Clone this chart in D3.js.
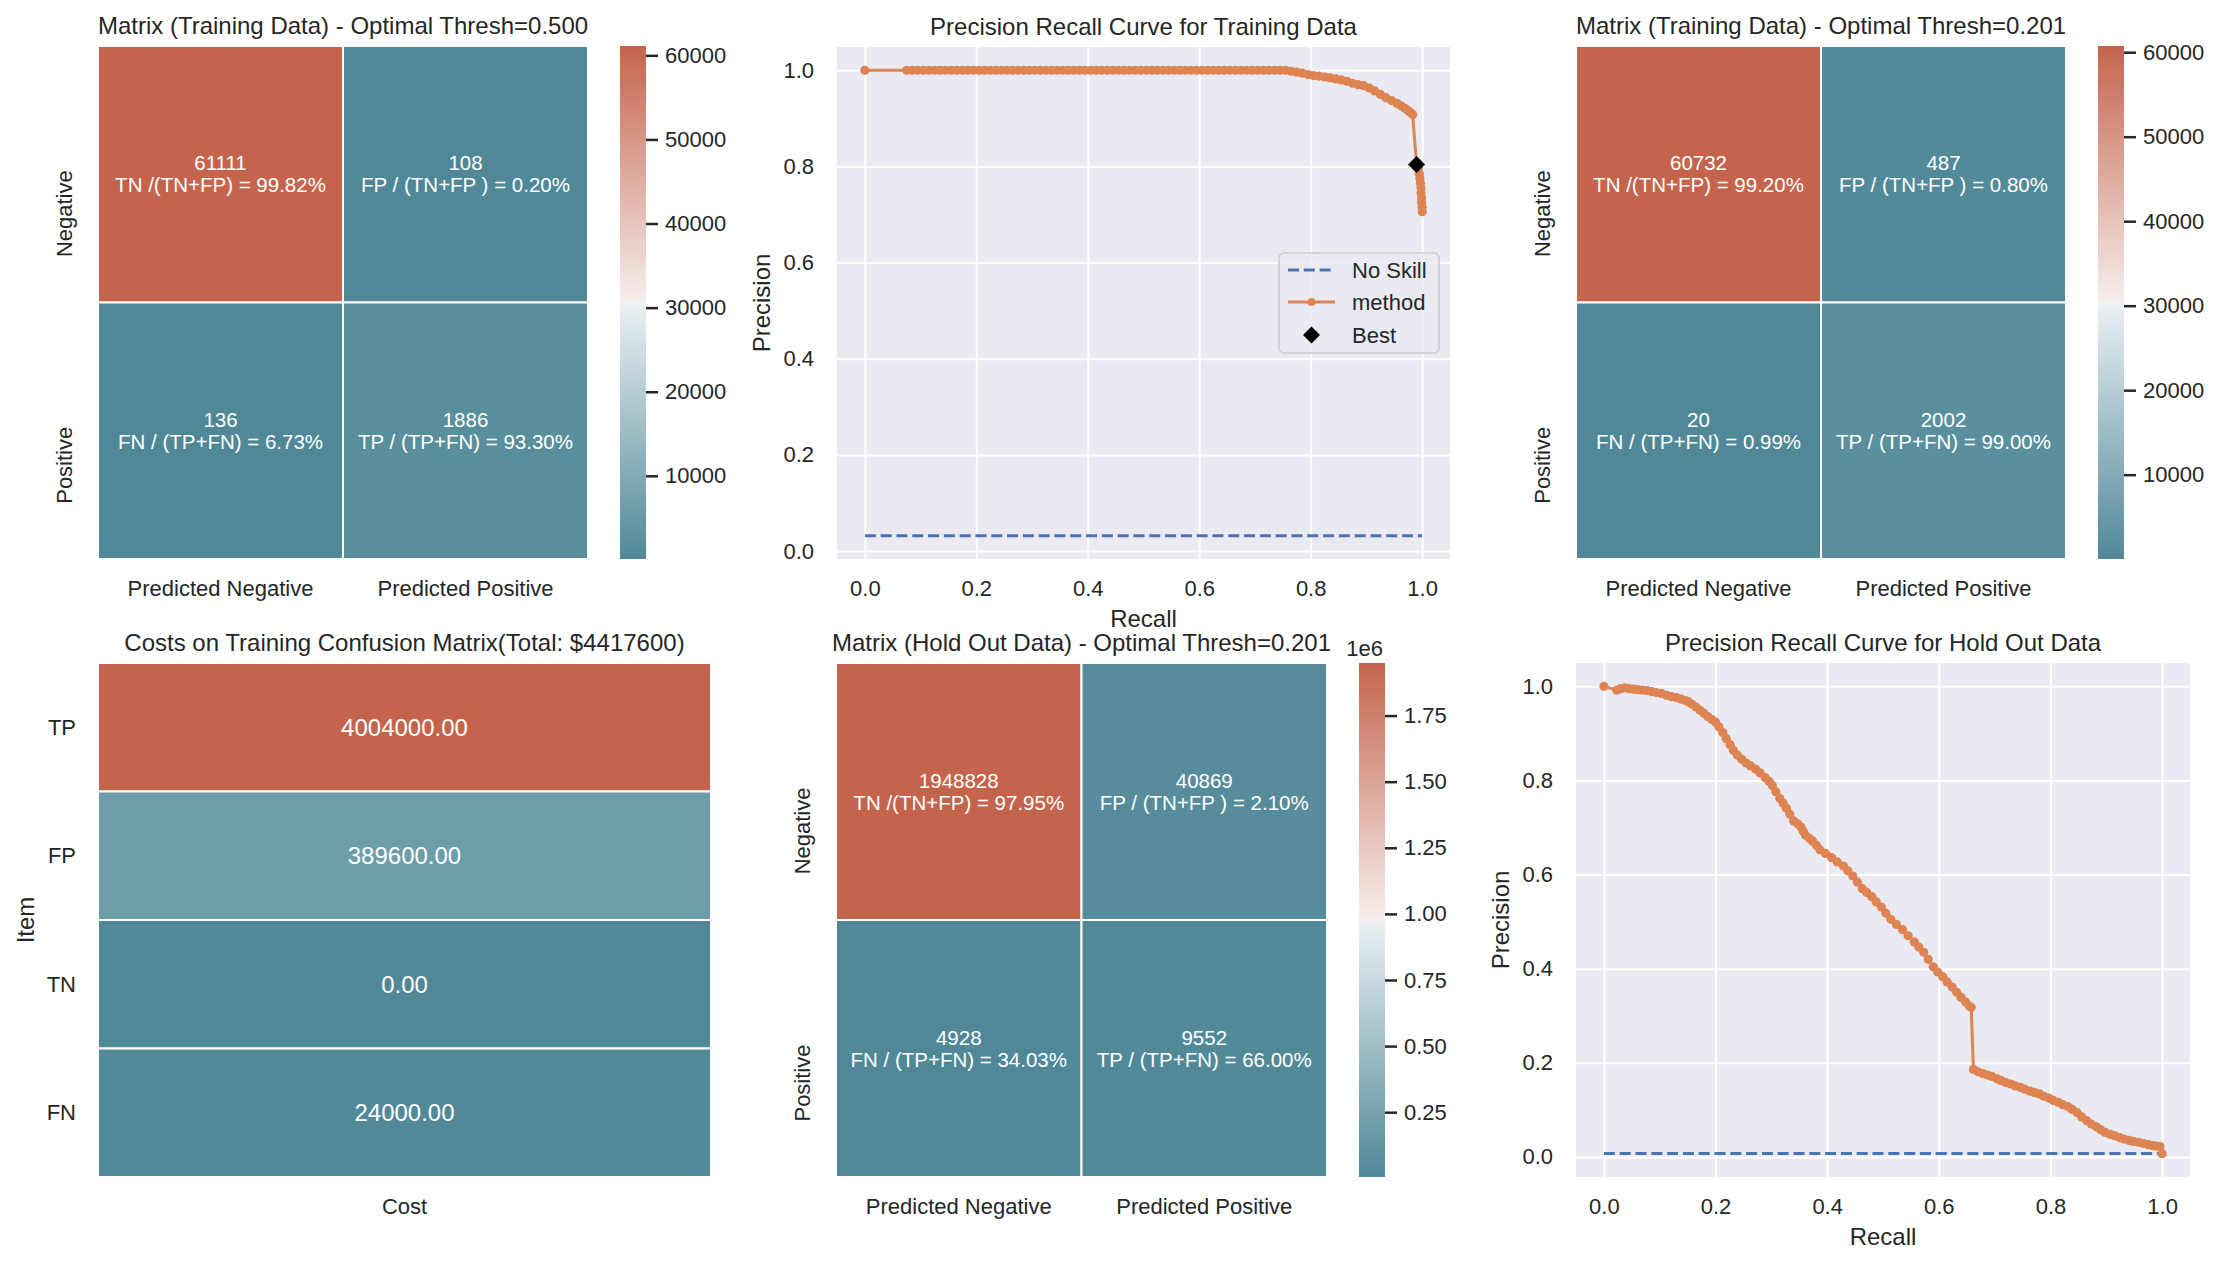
<!DOCTYPE html>
<html><head><meta charset="utf-8">
<script src="https://cdn.jsdelivr.net/npm/d3@7"></script>
<style>body{margin:0;background:#fff}svg{display:block}</style>
</head><body><svg id="c" width="2221" height="1264"></svg>
<script>
// ---------------- data ----------------
const cmCols = ["Predicted Negative", "Predicted Positive"];
const cmRows = ["Negative", "Positive"];

// order: TN, FP, FN, TP
const trainCounts050 = [61111, 108, 136, 1886];
const trainRatios050 = ["TN /(TN+FP) = 99.82%", "FP / (TN+FP ) = 0.20%", "FN / (TP+FN) = 6.73%", "TP / (TP+FN) = 93.30%"];
const trainCounts0201 = [60732, 487, 20, 2002];
const trainRatios0201 = ["TN /(TN+FP) = 99.20%", "FP / (TN+FP ) = 0.80%", "FN / (TP+FN) = 0.99%", "TP / (TP+FN) = 99.00%"];
const holdCounts0201 = [1948828, 40869, 4928, 9552];
const holdRatios0201 = ["TN /(TN+FP) = 97.95%", "FP / (TN+FP ) = 2.10%", "FN / (TP+FN) = 34.03%", "TP / (TP+FN) = 66.00%"];

const costItems = ["TP", "FP", "TN", "FN"];
const costCols = ["Cost"];
const costValues = [4004000, 389600, 0, 24000];

const trainCbTicks = [10000, 20000, 30000, 40000, 50000, 60000];
const holdCbTicks = [250000, 500000, 750000, 1000000, 1250000, 1500000, 1750000];
const prTicks = [0, 0.2, 0.4, 0.6, 0.8, 1.0];

const titles = [
  "Matrix (Training Data) - Optimal Thresh=0.500",
  "Precision Recall Curve for Training Data",
  "Matrix (Training Data) - Optimal Thresh=0.201",
  "Costs on Training Confusion Matrix(Total: $4417600)",
  "Matrix (Hold Out Data) - Optimal Thresh=0.201",
  "Precision Recall Curve for Hold Out Data"
];
const legendLabels = ["No Skill", "method", "Best"];

const trainNoSkill = 0.032;
const trainBest = [0.990, 0.804];
const trainCurve = [
  [0.000,1.000],
  [0.075,1],[0.085,1],[0.095,1],[0.105,1],[0.115,1],[0.125,1],[0.135,1],[0.145,1],[0.155,1],[0.165,1],
  [0.175,1],[0.185,1],[0.195,1],[0.205,1],[0.215,1],[0.225,1],[0.235,1],[0.245,1],[0.255,1],[0.265,1],
  [0.275,1],[0.285,1],[0.295,1],[0.305,1],[0.315,1],[0.325,1],[0.335,1],[0.345,1],[0.355,1],[0.365,1],
  [0.375,1],[0.385,1],[0.395,1],[0.405,1],[0.415,1],[0.425,1],[0.435,1],[0.445,1],[0.455,1],[0.465,1],
  [0.475,1],[0.485,1],[0.495,1],[0.505,1],[0.515,1],[0.525,1],[0.535,1],[0.545,1],[0.555,1],[0.565,1],
  [0.575,1],[0.585,1],[0.595,1],[0.605,1],[0.615,1],[0.625,1],[0.635,1],[0.645,1],[0.655,1],[0.665,1],
  [0.675,1],[0.685,1],[0.695,1],[0.705,1],[0.715,1],[0.725,1],[0.735,1],[0.745,1],[0.755,1],
  [0.765,0.998],[0.775,0.996],[0.785,0.994],[0.795,0.991],[0.805,0.989],[0.815,0.988],[0.825,0.986],
  [0.835,0.984],[0.845,0.982],[0.855,0.980],[0.865,0.977],[0.875,0.973],[0.885,0.970],[0.895,0.968],
  [0.905,0.963],[0.915,0.957],[0.925,0.950],[0.935,0.943],[0.945,0.937],[0.955,0.931],[0.962,0.926],
  [0.969,0.921],[0.975,0.916],[0.979,0.912],[0.983,0.908],
  [0.990,0.804],[0.993,0.795],[0.995,0.785],[0.996,0.775],[0.997,0.765],[0.998,0.755],[0.998,0.745],
  [0.999,0.735],[0.999,0.725],[1.000,0.715],[1.000,0.706]
];

const holdNoSkill = 0.0072;
const holdCurve = [
  [0.000,1.000],[0.023,0.992],[0.030,0.995],[0.037,0.997],[0.045,0.995],[0.053,0.994],[0.061,0.993],
  [0.069,0.992],[0.077,0.991],[0.085,0.989],[0.094,0.987],[0.103,0.985],[0.112,0.981],[0.121,0.978],
  [0.130,0.976],[0.138,0.973],[0.146,0.970],[0.152,0.967],[0.158,0.962],[0.165,0.956],[0.172,0.949],
  [0.179,0.943],[0.186,0.936],[0.193,0.930],[0.200,0.924],[0.206,0.914],[0.213,0.902],[0.219,0.889],
  [0.226,0.876],[0.232,0.864],[0.239,0.854],[0.247,0.845],[0.255,0.837],[0.263,0.831],[0.272,0.824],
  [0.280,0.816],[0.289,0.806],[0.296,0.798],[0.302,0.789],[0.308,0.776],[0.315,0.762],[0.321,0.752],
  [0.327,0.741],[0.333,0.728],[0.340,0.714],[0.347,0.708],[0.353,0.701],[0.357,0.692],[0.361,0.684],
  [0.368,0.677],[0.374,0.671],[0.381,0.662],[0.387,0.653],[0.397,0.645],[0.408,0.636],[0.418,0.627],
  [0.429,0.618],[0.437,0.608],[0.446,0.597],[0.454,0.584],[0.463,0.570],[0.471,0.562],[0.480,0.553],
  [0.488,0.542],[0.497,0.531],[0.505,0.518],[0.514,0.505],[0.524,0.494],[0.535,0.483],[0.545,0.470],
  [0.556,0.457],[0.564,0.446],[0.573,0.435],[0.581,0.420],[0.590,0.404],[0.598,0.393],[0.607,0.383],
  [0.615,0.372],[0.624,0.361],[0.632,0.350],[0.640,0.339],[0.648,0.329],[0.655,0.320],[0.658,0.318],
  [0.662,0.186],[0.670,0.181],[0.679,0.177],[0.687,0.174],[0.695,0.171],[0.704,0.166],[0.712,0.162],
  [0.720,0.158],[0.729,0.155],[0.737,0.151],[0.746,0.148],[0.754,0.144],[0.763,0.140],[0.771,0.137],
  [0.780,0.134],[0.788,0.129],[0.797,0.125],[0.805,0.120],[0.814,0.116],[0.822,0.111],[0.831,0.107],
  [0.839,0.101],[0.848,0.094],[0.856,0.085],[0.865,0.077],[0.873,0.070],[0.882,0.064],[0.890,0.058],
  [0.898,0.052],[0.907,0.048],[0.915,0.045],[0.924,0.041],[0.932,0.038],[0.941,0.035],[0.949,0.033],
  [0.958,0.031],[0.966,0.029],[0.975,0.026],[0.983,0.024],[0.990,0.023],[0.996,0.022],[1.000,0.007]
];

// ---------------- style ----------------
const FONT = "'Liberation Sans', Arial, Helvetica, sans-serif";
const TXT = "#262626";
const cBlue = "#508898", cBlueLight = "#ebf1f4", cMid = "#f2f2f2", cRedLight = "#f6eeec", cRed = "#c5644c";
const cmapStops = [0, 126/254, 127/254, 128/254, 1];
const cmapColors = [cBlue, cBlueLight, cMid, cRedLight, cRed];
const cmap = d3.scaleLinear().domain(cmapStops).range(cmapColors).interpolate(d3.interpolateRgb);
const MARK_R = 4.6;

const svg = d3.select("#c").attr("font-family", FONT);
const defs = svg.append("defs");

function addText(x, y, s, size, opts = {}) {
  const t = svg.append("text").attr("x", x).attr("y", y).attr("font-size", size)
    .attr("fill", opts.fill || TXT).attr("text-anchor", opts.anchor || "middle").text(s);
  if (opts.dy) t.attr("dy", opts.dy);
  if (opts.transform) t.attr("transform", opts.transform).attr("x", 0).attr("y", 0);
  return t;
}

// ---------------- colorbar ----------------
function colorbar(x0, y0, w, h, vmin, vmax, ticks, fmt, id, offsetLabel) {
  const grad = defs.append("linearGradient").attr("id", id)
    .attr("x1", 0).attr("y1", 1).attr("x2", 0).attr("y2", 0);
  cmapStops.forEach((s, i) => grad.append("stop").attr("offset", s).attr("stop-color", cmapColors[i]));
  svg.append("rect").attr("x", x0).attr("y", y0).attr("width", w).attr("height", h).attr("fill", `url(#${id})`);
  const ys = d3.scaleLinear().domain([vmin, vmax]).range([y0 + h, y0]);
  const g = svg.append("g").attr("transform", `translate(${x0 + w},0)`)
    .call(d3.axisRight(ys).tickValues(ticks).tickSize(12).tickPadding(7).tickFormat(fmt));
  g.attr("font-family", FONT).attr("font-size", 22);
  g.select(".domain").remove();
  g.selectAll(".tick line").attr("stroke", TXT).attr("stroke-width", 2.5);
  g.selectAll(".tick text").attr("fill", TXT);
  if (offsetLabel) addText(x0 + w - 2, y0 - 7, offsetLabel, 22, { anchor: "end" });
}

// ---------------- confusion heatmap ----------------
function confMatrix(x0, y0, w, h, counts, ratios, title, cb) {
  const xs = d3.scaleBand().domain(cmCols).range([x0, x0 + w]);
  const ys = d3.scaleBand().domain(cmRows).range([y0, y0 + h]);
  const vmin = d3.min(counts), vmax = d3.max(counts);
  const cells = [];
  cmRows.forEach((r, i) => cmCols.forEach((c, j) => cells.push({ r, c, v: counts[i * 2 + j], t: ratios[i * 2 + j] })));
  svg.append("g").selectAll("rect").data(cells).join("rect")
    .attr("x", d => xs(d.c)).attr("y", d => ys(d.r))
    .attr("width", xs.bandwidth()).attr("height", ys.bandwidth())
    .attr("fill", d => cmap((d.v - vmin) / (vmax - vmin)))
    .attr("stroke", "#fff").attr("stroke-width", 2);
  cells.forEach(d => {
    const cx = xs(d.c) + xs.bandwidth() / 2, cy = ys(d.r) + ys.bandwidth() / 2;
    addText(cx, cy - 11, String(d.v), 20.5, { fill: "#fff", dy: "0.35em" });
    addText(cx, cy + 11, d.t, 20.5, { fill: "#fff", dy: "0.35em" });
  });
  cmCols.forEach(c => addText(xs(c) + xs.bandwidth() / 2, y0 + h + 37, c, 22));
  cmRows.forEach(r => addText(0, 0, r, 22, { anchor: "end",
    transform: `translate(${x0 - 26},${ys(r) + ys.bandwidth() / 2 - 4}) rotate(-90)` }));
  addText(x0 + w / 2, y0 - 12, title, 24);
  colorbar(x0 + w + 32, y0, 26, h, vmin, vmax, cb.ticks, cb.fmt, cb.id, cb.offset);
}

// ---------------- cost heatmap ----------------
function costMatrix(x0, y0, w, h) {
  const xs = d3.scaleBand().domain(costCols).range([x0, x0 + w]);
  const ys = d3.scaleBand().domain(costItems).range([y0, y0 + h]);
  const vmin = d3.min(costValues), vmax = d3.max(costValues);
  const cells = costItems.map((k, i) => ({ k, v: costValues[i] }));
  svg.append("g").selectAll("rect").data(cells).join("rect")
    .attr("x", xs("Cost")).attr("y", d => ys(d.k))
    .attr("width", xs.bandwidth()).attr("height", ys.bandwidth())
    .attr("fill", d => cmap((d.v - vmin) / (vmax - vmin)))
    .attr("stroke", "#fff").attr("stroke-width", 2);
  cells.forEach(d => {
    addText(xs("Cost") + xs.bandwidth() / 2, ys(d.k) + ys.bandwidth() / 2, d.v.toFixed(2), 24, { fill: "#fff", dy: "0.35em" });
    addText(x0 - 22, ys(d.k) + ys.bandwidth() / 2, d.k, 22, { anchor: "end", dy: "0.35em" });
  });
  addText(xs("Cost") + xs.bandwidth() / 2, y0 + h + 37, "Cost", 22);
  addText(0, 0, "Item", 24, { dy: "0.35em", transform: `translate(26,${y0 + h / 2}) rotate(-90)` });
  addText(x0 + w / 2, y0 - 12, titles[3], 24);
}

// ---------------- PR curve ----------------
const ORANGE = "#dd8452", BLUE = "#4c72b0";
function prChart(x0, y0, w, h, curve, noSkill, title, best, legend) {
  const x = d3.scaleLinear().domain([-0.05, 1.05]).range([x0, x0 + w]);
  const lo = Math.min(d3.min(curve, d => d[1]), noSkill), hi = Math.max(d3.max(curve, d => d[1]), noSkill);
  const m = (hi - lo) * 0.05;
  const y = d3.scaleLinear().domain([lo - m, hi + m]).range([y0 + h, y0]);
  svg.append("rect").attr("x", x0).attr("y", y0).attr("width", w).attr("height", h).attr("fill", "#eaeaf2");
  const fmt = d3.format(".1f");
  const gx = svg.append("g").attr("transform", `translate(0,${y0 + h})`)
    .call(d3.axisBottom(x).tickValues(prTicks).tickSize(-h).tickPadding(21.5).tickFormat(fmt));
  const gy = svg.append("g").attr("transform", `translate(${x0},0)`)
    .call(d3.axisLeft(y).tickValues(prTicks).tickSize(-w).tickPadding(23).tickFormat(fmt));
  [gx, gy].forEach(g => {
    g.attr("font-family", FONT).attr("font-size", 22);
    g.select(".domain").remove();
    g.selectAll(".tick line").attr("stroke", "#fff").attr("stroke-width", 2);
    g.selectAll(".tick text").attr("fill", TXT);
  });
  // no skill
  svg.append("line").attr("x1", x(0)).attr("x2", x(1)).attr("y1", y(noSkill)).attr("y2", y(noSkill))
    .attr("stroke", BLUE).attr("stroke-width", 3).attr("stroke-dasharray", "11,4.8");
  // method
  svg.append("path").datum(curve).attr("fill", "none").attr("stroke", ORANGE).attr("stroke-width", 3)
    .attr("stroke-linejoin", "round")
    .attr("d", d3.line().x(d => x(d[0])).y(d => y(d[1])));
  svg.append("g").selectAll("circle").data(curve).join("circle")
    .attr("cx", d => x(d[0])).attr("cy", d => y(d[1])).attr("r", MARK_R).attr("fill", ORANGE);
  const diamond = r => `M0,${-r}L${r},0L0,${r}L${-r},0Z`;
  if (best) {
    svg.append("path").attr("d", diamond(8.5)).attr("fill", "#000")
      .attr("transform", `translate(${x(best[0])},${y(best[1])})`);
  }
  if (legend) {
    const lx = x0 + w - 171, ly = y0 + 206;
    svg.append("rect").attr("x", lx).attr("y", ly).attr("width", 160).attr("height", 100).attr("rx", 5)
      .attr("fill", "#eaeaf2").attr("fill-opacity", 0.8).attr("stroke", "#cccccc").attr("stroke-width", 1.6);
    const rowsY = [ly + 17, ly + 49, ly + 82];
    const hx1 = lx + 9, hx2 = lx + 56, hm = (hx1 + hx2) / 2;
    svg.append("line").attr("x1", hx1).attr("x2", hx2).attr("y1", rowsY[0]).attr("y2", rowsY[0])
      .attr("stroke", BLUE).attr("stroke-width", 3).attr("stroke-dasharray", "11,4.8");
    svg.append("line").attr("x1", hx1).attr("x2", hx2).attr("y1", rowsY[1]).attr("y2", rowsY[1])
      .attr("stroke", ORANGE).attr("stroke-width", 3);
    svg.append("circle").attr("cx", hm).attr("cy", rowsY[1]).attr("r", 3.9).attr("fill", ORANGE);
    svg.append("path").attr("d", diamond(8.5)).attr("fill", "#000").attr("transform", `translate(${hm},${rowsY[2]})`);
    legendLabels.forEach((s, i) => addText(lx + 73, rowsY[i], s, 22, { anchor: "start", dy: "0.35em" }));
  }
  addText(x0 + w / 2, y0 - 12, title, 24);
  addText(x0 + w / 2, y0 + h + 68, "Recall", 24);
  addText(0, 0, "Precision", 24, { dy: "0.35em", transform: `translate(${x0 - 75},${y0 + h / 2}) rotate(-90)` });
}

// ---------------- layout ----------------
const colX = [98, 837, 1576];
const rowTop = [46, 663], rowH = 513;
const hmW = 490, fullW = 613;

confMatrix(colX[0], rowTop[0], hmW, rowH, trainCounts050, trainRatios050, titles[0],
  { ticks: trainCbTicks, fmt: d3.format("d"), id: "cb1" });
prChart(colX[1], rowTop[0] + 1, fullW, rowH - 1, trainCurve, trainNoSkill, titles[1], trainBest, true);
confMatrix(colX[2], rowTop[0], hmW, rowH, trainCounts0201, trainRatios0201, titles[2],
  { ticks: trainCbTicks, fmt: d3.format("d"), id: "cb3" });
costMatrix(colX[0], rowTop[1], fullW, rowH + 1);
confMatrix(colX[1] - 1, rowTop[1], hmW + 1, rowH + 1, holdCounts0201, holdRatios0201, titles[4],
  { ticks: holdCbTicks, fmt: v => (v / 1e6).toFixed(2), id: "cb5", offset: "1e6" });
prChart(colX[2], rowTop[1], fullW + 1, rowH + 1, holdCurve, holdNoSkill, titles[5], null, false);
</script></body></html>
